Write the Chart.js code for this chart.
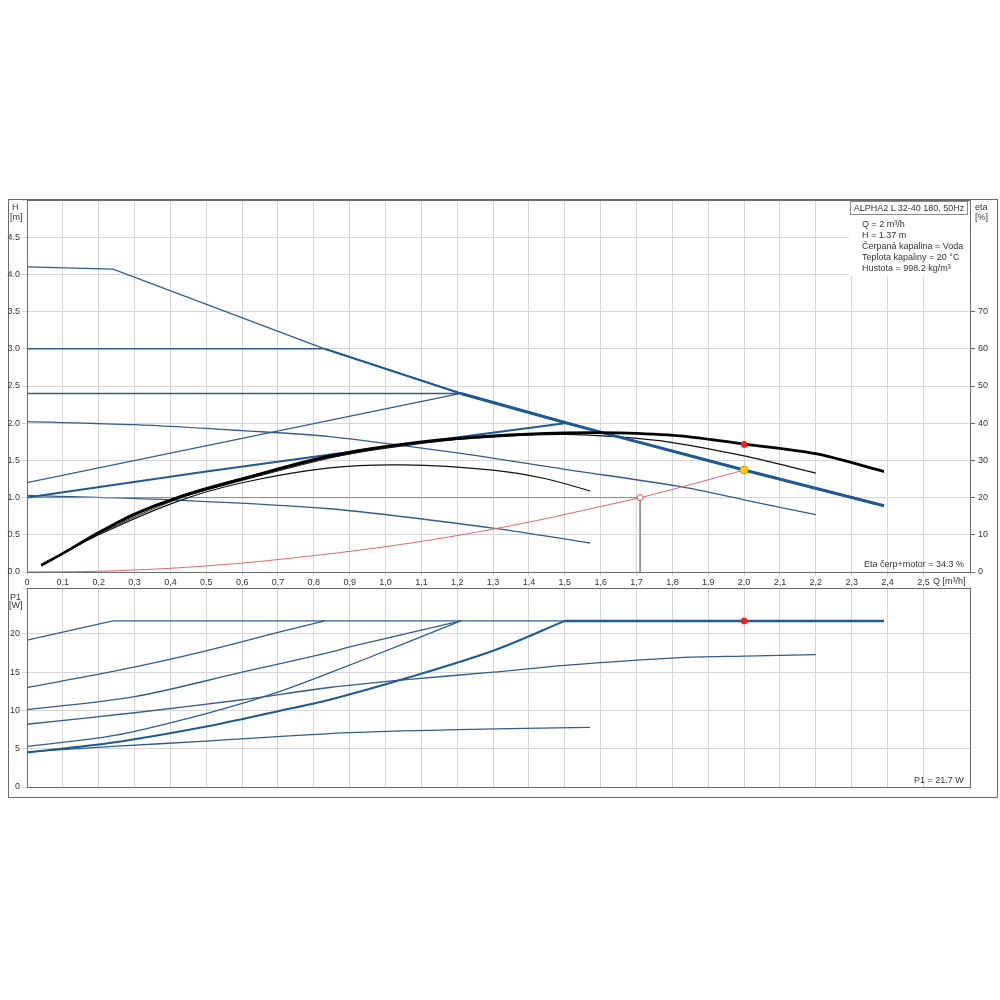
<!DOCTYPE html>
<html>
<head>
<meta charset="utf-8">
<script src="https://cdn.jsdelivr.net/npm/chart.js@4.4.1/dist/chart.umd.min.js"></script>
<style>
body { margin: 0; background: #fff; }
#wrap { position: relative; width: 1000px; height: 1000px; }
canvas { position: absolute; left: 0; }
.frame { position: absolute; left: 8px; top: 199px; width: 990px; height: 599px; border: 1px solid #6b6b6b; box-sizing: border-box; }
.txt { position: absolute; font: 9px "Liberation Sans", Arial, sans-serif; color: #333; white-space: nowrap; line-height: 11px; }
.info { position: absolute; left: 849px; top: 201px; width: 120px; height: 75px; background: #fff; }
.title { position: absolute; left: 850px; top: 201px; width: 118px; height: 14px; border: 1px solid #8a8a8a; box-sizing: border-box; font: 9px "Liberation Sans", Arial, sans-serif; color: #333; line-height: 12px; text-align: center; background: #fff; }
</style>
</head>
<body>
<div id="wrap">
  <div class="frame"></div>
  <canvas id="hChart" width="1000" height="392" style="top:195px"></canvas>
  <canvas id="pChart" width="1000" height="209" style="top:583px"></canvas>

  <div class="txt" style="left:12px;top:202px">H</div>
  <div class="txt" style="left:10px;top:212px">[m]</div>
  <div class="txt" style="left:975px;top:202px">eta</div>
  <div class="txt" style="left:975px;top:212px">[%]</div>
  <div class="txt" style="left:10px;top:592px">P1</div>
  <div class="txt" style="left:9px;top:600px">[W]</div>
  <div class="txt" style="left:933px;top:576px">Q [m³/h]</div>

  <div class="info"></div>
  <div class="title">ALPHA2 L 32-40 180, 50Hz</div>
  <div class="txt" style="left:862px;top:219px">Q = 2 m³/h</div>
  <div class="txt" style="left:862px;top:230px">H = 1.37 m</div>
  <div class="txt" style="left:862px;top:241px">Čerpaná kapalina = Voda</div>
  <div class="txt" style="left:862px;top:252px">Teplota kapaliny = 20 °C</div>
  <div class="txt" style="left:862px;top:263px">Hustota = 998.2 kg/m³</div>

  <div class="txt" style="left:864px;top:559px">Eta čerp+motor = 34.3 %</div>
  <div class="txt" style="left:914px;top:775px">P1 = 21.7 W</div>
</div>

<script>
// ---------- H (head) curves, Q in m3/h, H in m ----------
const qSpeed3 = [0, 0.24, 0.83, 1.21, 1.5, 1.6, 2.0, 2.39];
const hSpeed3 = [4.1, 4.07, 3.0, 2.4, 2.01, 1.88, 1.37, 0.89];
const qCp3 = [0, 0.83];
const hCp3 = [3.0, 3.0];
const qCp24 = [0, 1.21];
const hCp24 = [2.4, 2.4];
const qPp2 = [0, 1.21];
const hPp2 = [1.2, 2.4];
const qPp1 = [0, 0.5, 1.0, 1.5];
const hPp1 = [1.0, 1.35, 1.68, 2.0];
const qSpeed2 = [0, 0.3, 0.6, 0.844, 1.2, 1.5, 1.82, 2.0, 2.2];
const hSpeed2 = [2.02, 1.98, 1.9, 1.82, 1.6, 1.38, 1.15, 0.97, 0.77];
const qSpeed1 = [0, 0.4, 0.844, 1.3, 1.57];
const hSpeed1 = [1.03, 0.97, 0.85, 0.59, 0.39];

// system curve and reference lines
const qSystem = [0, 0.2, 0.4, 0.6, 0.8, 1.0, 1.2, 1.4, 1.6, 1.71, 1.8, 2.0];
const hSystem = [0, 0.01, 0.05, 0.12, 0.22, 0.34, 0.49, 0.67, 0.88, 1.0, 1.11, 1.37];
const qRef = [0, 1.71, 1.71];
const hRef = [1.0, 1.0, 0];

// ---------- efficiency curves, eta in % ----------
const qEtaMax = [0.04, 0.1, 0.2, 0.3, 0.42, 0.6, 0.844, 1.1, 1.3, 1.5, 1.65, 1.82, 2.0, 2.2, 2.39];
const etaMax = [1.8, 5.0, 10.6, 15.6, 20, 25, 31.2, 35, 36.6, 37.4, 37.4, 36.6, 34.4, 31.8, 27];
const qEta2 = [0.04, 0.1, 0.2, 0.3, 0.42, 0.6, 0.844, 1.1, 1.3, 1.5, 1.65, 1.8, 2.0, 2.2];
const eta2 = [1.8, 4.9, 10.4, 15.4, 19.8, 24.8, 30.8, 34.6, 36.4, 37.0, 36.3, 34.8, 31.2, 26.6];
const qEta1 = [0.04, 0.2, 0.42, 0.6, 0.844, 1.05, 1.3, 1.45, 1.57];
const eta1 = [1.8, 10.0, 19.0, 24.0, 28.0, 28.8, 27.4, 25.0, 21.8];
const qEtaPp2 = [0.04, 0.2, 0.42, 0.6, 0.844, 1.0, 1.21];
const etaPp2 = [1.8, 10.3, 19.6, 24.6, 30.6, 33.4, 36.0];
const qEtaPp1 = [0.04, 0.2, 0.42, 0.6, 0.844, 1.1, 1.5];
const etaPp1 = [1.8, 10.5, 20.2, 25.3, 31.0, 34.8, 37.4];

// duty point
const qDuty = [2.0];
const hDuty = [1.37];
const etaDuty = [34.3];
const p1Duty = [21.7];

// ---------- P1 (power) curves, W ----------
const qP1Speed3 = [0, 0.24, 1.21, 1.5, 2.0, 2.39];
const p1Speed3 = [19.2, 21.7, 21.7, 21.7, 21.7, 21.7];
const qP1Cp3 = [0, 0.24, 0.5, 0.7, 0.83];
const p1Cp3 = [13.0, 15.1, 17.8, 20.2, 21.7];
const qP1Cp24 = [0, 0.3, 0.6, 0.844, 0.9, 1.21];
const p1Cp24 = [10.1, 11.8, 15.0, 17.6, 18.3, 21.7];
const qP1Speed2 = [0, 0.3, 0.6, 0.844, 1.05, 1.3, 1.5, 1.82, 2.0, 2.2];
const p1Speed2 = [8.2, 9.7, 11.4, 13.0, 14.0, 15.0, 15.9, 16.9, 17.1, 17.3];
const qP1Pp2 = [0, 0.24, 0.5, 0.7, 0.844, 1.05, 1.21];
const p1Pp2 = [5.3, 6.7, 9.6, 12.4, 14.9, 18.7, 21.7];
const qP1Pp1 = [0, 0.24, 0.5, 0.7, 0.844, 1.05, 1.3, 1.5];
const p1Pp1 = [4.5, 5.8, 7.9, 9.9, 11.4, 14.1, 17.8, 21.7];
const qP1Speed1 = [0, 0.24, 0.5, 0.9, 1.2, 1.57];
const p1Speed1 = [4.6, 5.3, 6.0, 7.1, 7.5, 7.8];

const thinBlue = '#345c8a';
const thickBlue = '#1d5a96';
const gridColor = '#d6d6d6';
const axisColor = '#6b6b6b';

Chart.defaults.font.family = '"Liberation Sans", Arial, sans-serif';
Chart.defaults.font.size = 9;
Chart.defaults.color = '#333';

function toXY(xs, ys) {
    return xs.map((x, i) => ({ x: x, y: ys[i] }));
}

function line(xs, ys, color, width, axis) {
    return {
        data: toXY(xs, ys),
        showLine: true,
        borderColor: color,
        borderWidth: width,
        pointRadius: 0,
        tension: 0.3,
        yAxisID: axis || 'y'
    };
}

function straight(xs, ys, color, width, axis) {
    const ds = line(xs, ys, color, width, axis);
    ds.tension = 0;
    return ds;
}

function point(xs, ys, fill, border, r, axis) {
    return {
        data: toXY(xs, ys),
        showLine: false,
        pointRadius: r,
        pointBackgroundColor: fill,
        pointBorderColor: border,
        pointBorderWidth: 1,
        yAxisID: axis || 'y'
    };
}

// fixed axis sizes, no extra padding for the end labels
function fixWidth(w) {
    return s => { s.width = w; s.paddingTop = 0; s.paddingBottom = 0; };
}
function fixHeight(h) {
    return s => { s.height = h; s.paddingLeft = 0; s.paddingRight = 0; };
}

// outline around plot area (top/right edges)
const frameBox = {
    id: 'frameBox',
    afterDraw(chart) {
        const a = chart.chartArea;
        const ctx = chart.ctx;
        ctx.save();
        ctx.strokeStyle = axisColor;
        ctx.lineWidth = 1;
        ctx.strokeRect(Math.round(a.left) + 0.5, Math.round(a.top) + 0.5,
            Math.round(a.right - a.left), Math.round(a.bottom - a.top));
        ctx.restore();
    }
};

function qLabel(v) {
    if (v > 2.55) return '';
    if (v === 0) return '0';
    return v.toFixed(1).replace('.', ',');
}

// ==================== H / ETA CHART ====================
new Chart(document.getElementById('hChart'), {
    type: 'scatter',
    data: {
        datasets: [
            point(qDuty, etaDuty, '#ff1a1a', '#ff1a1a', 3, 'eta'),
            point(qDuty, hDuty, '#ffcc22', '#e09a00', 4),
            point([qRef[1]], [hRef[1]], '#ffffff', '#e05050', 3),
            line(qEtaMax, etaMax, '#000', 2.8, 'eta'),
            straight(qSpeed3.slice(3), hSpeed3.slice(3), thickBlue, 3),
            straight(qSpeed3.slice(2), hSpeed3.slice(2), thickBlue, 2),
            line(qPp1, hPp1, thickBlue, 2),
            line(qEta2, eta2, '#111', 1.2, 'eta'),
            line(qEta1, eta1, '#111', 1.2, 'eta'),
            line(qEtaPp2, etaPp2, '#222', 1, 'eta'),
            line(qEtaPp1, etaPp1, '#222', 1, 'eta'),
            line(qSystem, hSystem, '#e06666', 1),
            straight(qRef, hRef, '#8c8c8c', 1),
            straight(qSpeed3, hSpeed3, thinBlue, 1.3),
            straight(qCp3, hCp3, thinBlue, 1.5),
            straight(qCp24, hCp24, thinBlue, 1.5),
            straight(qPp2, hPp2, thinBlue, 1.3),
            line(qSpeed2, hSpeed2, thinBlue, 1.3),
            line(qSpeed1, hSpeed1, thinBlue, 1.3)
        ]
    },
    options: {
        responsive: false,
        animation: false,
        layout: { padding: { top: 1, bottom: 0, left: 0, right: 0 } },
        plugins: { legend: { display: false }, tooltip: { enabled: false } },
        scales: {
            x: {
                type: 'linear',
                min: 0,
                max: 2.63,
                ticks: { stepSize: 0.1, callback: qLabel, maxRotation: 0, autoSkip: false, padding: 1 },
                grid: { color: gridColor, tickLength: 4 },
                border: { color: axisColor },
                afterFit: fixHeight(15)
            },
            y: {
                position: 'left',
                min: 0,
                max: 5,
                ticks: { stepSize: 0.5, padding: 2, callback: v => v > 4.9 ? '' : v.toFixed(1) },
                grid: { color: gridColor, tickLength: 5 },
                border: { color: axisColor },
                afterFit: fixWidth(27)
            },
            eta: {
                position: 'right',
                min: 0,
                max: 100,
                ticks: { stepSize: 10, padding: 3, callback: v => v > 75 ? '' : String(v) },
                grid: {
                    drawOnChartArea: false,
                    tickLength: 5,
                    color: c => (c.tick && c.tick.value > 75) ? 'rgba(0,0,0,0)' : axisColor
                },
                border: { color: axisColor },
                afterFit: fixWidth(30)
            }
        }
    },
    plugins: [frameBox]
});

// ==================== P1 CHART ====================
new Chart(document.getElementById('pChart'), {
    type: 'scatter',
    data: {
        datasets: [
            point(qDuty, p1Duty, '#ff1a1a', '#ff1a1a', 3),
            straight(qP1Speed3.slice(3), p1Speed3.slice(3), thickBlue, 2.5),
            line(qP1Pp1, p1Pp1, thickBlue, 2),
            straight(qP1Speed3, p1Speed3, thinBlue, 1.3),
            line(qP1Cp3, p1Cp3, thinBlue, 1.3),
            line(qP1Cp24, p1Cp24, thinBlue, 1.3),
            line(qP1Speed2, p1Speed2, thinBlue, 1.3),
            line(qP1Pp2, p1Pp2, thinBlue, 1.3),
            line(qP1Speed1, p1Speed1, thinBlue, 1.3)
        ]
    },
    options: {
        responsive: false,
        animation: false,
        layout: { padding: { top: 1, bottom: 0, left: 0, right: 30 } },
        plugins: { legend: { display: false }, tooltip: { enabled: false } },
        scales: {
            x: {
                type: 'linear',
                min: 0,
                max: 2.63,
                ticks: { stepSize: 0.1, display: false },
                grid: { color: gridColor, drawTicks: false },
                border: { color: axisColor },
                afterFit: fixHeight(1)
            },
            y: {
                min: 0,
                max: 26,
                ticks: { stepSize: 5, padding: 2, callback: v => v > 22 ? '' : String(v) },
                grid: { color: gridColor, tickLength: 5 },
                border: { color: axisColor },
                afterFit: fixWidth(27)
            }
        }
    },
    plugins: [frameBox]
});
</script>
</body>
</html>
